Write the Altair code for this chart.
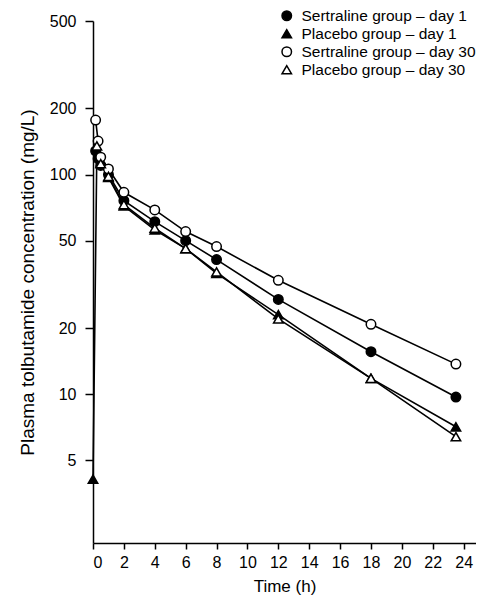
import altair as alt
import pandas as pd

series_names = [
    "Sertraline group – day 1",
    "Placebo group – day 1",
    "Sertraline group – day 30",
    "Placebo group – day 30",
]

# Sertraline day 1 (filled circles)
t_sd1 = [0.17, 0.33, 0.5, 1, 2, 4, 6, 8, 12, 18, 23.5]
c_sd1 = [128, 118, 110, 100, 76, 61, 50, 41, 27, 15.6, 9.7]
# Placebo day 1 (filled triangles)
t_pd1 = [0, 0.25, 0.5, 1, 2, 4, 6, 8, 12, 18, 23.5]
c_pd1 = [4.1, 130, 113, 97, 72, 56, 46, 35.5, 23, 11.8, 7.1]
# Sertraline day 30 (open circles)
t_sd30 = [0.17, 0.33, 0.5, 1, 2, 4, 6, 8, 12, 18, 23.5]
c_sd30 = [177, 142, 120, 106, 83, 69, 55, 47, 33, 20.8, 13.7]
# Placebo day 30 (open triangles)
t_pd30 = [0.25, 0.5, 1, 2, 4, 6, 8, 12, 18, 23.5]
c_pd30 = [135, 112, 98, 73, 57, 46, 36, 22, 11.8, 6.4]

x_ticks = list(range(0, 25, 2))
y_ticks = [5, 10, 20, 50, 100, 200, 500]

rows = []
for name, ts, cs in zip(series_names, [t_sd1, t_pd1, t_sd30, t_pd30],
                        [c_sd1, c_pd1, c_sd30, c_pd30]):
    for t, c in zip(ts, cs):
        rows.append({"series": name, "t": t, "c": c})
df = pd.DataFrame(rows)

font = "Liberation Sans"

x_enc = alt.X("t:Q", scale=alt.Scale(domain=[0, 24.8], nice=False, zero=False),
              axis=alt.Axis(values=x_ticks, title="Time (h)", format="d"))
y_enc = alt.Y("c:Q", scale=alt.Scale(type="log", domain=[2.1, 500], nice=False),
              axis=alt.Axis(values=y_ticks, title="Plasma tolbutamide concentration (mg/L)",
                            format="d"))

lines = alt.Chart(df).mark_line(color="black", strokeWidth=1.6).encode(
    x=x_enc, y=y_enc, detail="series:N", order="t:Q"
)

points = alt.Chart(df).mark_point(filled=True, opacity=1, size=90, strokeWidth=1.5).encode(
    x=x_enc,
    y=y_enc,
    shape=alt.Shape("series:N", sort=series_names,
                    scale=alt.Scale(domain=series_names,
                                    range=["circle", "triangle-up", "circle", "triangle-up"]),
                    legend=alt.Legend(title=None)),
    fill=alt.Fill("series:N", sort=series_names,
                  scale=alt.Scale(domain=series_names,
                                  range=["black", "black", "white", "white"]),
                  legend=alt.Legend(title=None)),
    stroke=alt.Stroke("series:N", sort=series_names,
                      scale=alt.Scale(domain=series_names,
                                      range=["black", "black", "black", "black"]),
                      legend=alt.Legend(title=None)),
)

chart = alt.layer(lines, points).properties(
    width=383,
    height=522,
    autosize=alt.AutoSizeParams(type="none"),
    padding={"left": 85, "top": 13, "right": 0, "bottom": 56},
).configure_view(stroke=None).configure_axis(
    domainColor="black", domainWidth=1.5, tickColor="black", tickWidth=1.5,
    labelColor="black", titleColor="black", labelFont=font, titleFont=font,
    labelFontSize=16, titleFontWeight="normal", grid=False,
).configure_axisY(
    tickSize=8, labelPadding=9, titlePadding=12, titleFontSize=19
).configure_axisX(
    tickSize=6, labelPadding=5, titlePadding=8, titleFontSize=17
).configure_legend(
    orient="none", legendX=186, legendY=-13, labelFont=font, labelFontSize=15.5,
    labelColor="black", symbolSize=90, symbolStrokeWidth=1.5, rowPadding=1,
    labelOffset=7, padding=0, labelLimit=400
)

chart.save("out.html", embed_options={"renderer": "svg", "actions": False})
